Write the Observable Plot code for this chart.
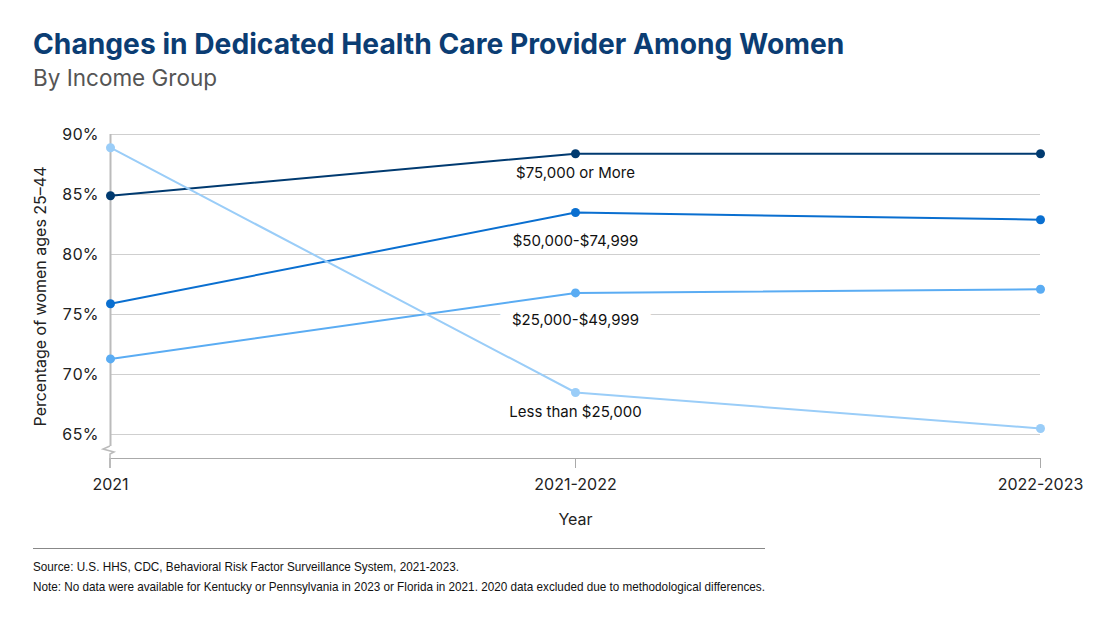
<!DOCTYPE html>
<html>
<head>
<meta charset="utf-8">
<script src="https://cdn.jsdelivr.net/npm/d3@7"></script>
<script src="https://cdn.jsdelivr.net/npm/@observablehq/plot@0.6"></script>
<style>
  html, body { margin: 0; padding: 0; background: #fff; }
  body { width: 1115px; height: 628px; position: relative; overflow: hidden; font-family: Inter, "Noto Sans", sans-serif; }
  #title { position: absolute; left: 33px; top: 27px; font-size: 28.2px; font-weight: 700; color: #0b3d73; letter-spacing: 0; white-space: nowrap; }
  #subtitle { position: absolute; left: 33px; top: 64px; font-size: 22.5px; color: #555; white-space: nowrap; }
  #chart { position: absolute; left: 0; top: 110px; }
  #rule { position: absolute; left: 33px; top: 548px; width: 732px; height: 0; border-top: 1px solid #888; }
  #notes { position: absolute; left: 33px; top: 557px; font-family: "Liberation Sans", Arial, sans-serif; font-size: 13.5px; color: #111; line-height: 20px; white-space: nowrap; transform: scaleX(0.868); transform-origin: 0 0; }
</style>
</head>
<body>
<div id="title">Changes in Dedicated Health Care Provider Among Women</div>
<div id="subtitle">By Income Group</div>
<div id="chart"></div>
<div id="rule"></div>
<div id="notes">
  <div>Source: U.S. HHS, CDC, Behavioral Risk Factor Surveillance System, 2021-2023.</div>
  <div>Note: No data were available for Kentucky or Pennsylvania in 2023 or Florida in 2021. 2020 data excluded due to methodological differences.</div>
</div>
<script>
const periods = ["2021", "2021-2022", "2022-2023"];
const groups = ["$75,000 or More", "$50,000-$74,999", "$25,000-$49,999", "Less than $25,000"];
const values75k = [84.9, 88.4, 88.4];
const values50k = [75.9, 83.5, 82.9];
const values25k = [71.3, 76.8, 77.1];
const valuesLess25k = [88.9, 68.5, 65.5];
const yTicks = [65, 70, 75, 80, 85, 90];

const seriesValues = [values75k, values50k, values25k, valuesLess25k];
const colors = ["#003a70", "#0a6fd0", "#5aacf3", "#9acdf8"];
const labelDy = [19, 29, 27, 20];
const labelHalo = [0, 0, 26, 0];

const data = groups.flatMap((g, i) => periods.map((p, j) => ({group: g, period: p, value: seriesValues[i][j]})));
const labels = groups.map((g, i) => ({group: g, period: periods[1], value: seriesValues[i][1], dy: labelDy[i], halo: labelHalo[i]}));

const chart = Plot.plot({
  width: 1115,
  height: 430,
  marginTop: 24,
  marginBottom: 82,
  marginLeft: 110,
  marginRight: 75,
  style: {fontFamily: "Inter, 'Noto Sans', sans-serif", fontSize: "16px", color: "#222", background: "transparent"},
  x: {type: "point", domain: periods, padding: 0},
  y: {domain: [63, 90]},
  color: {domain: groups, range: colors},
  marks: [
    Plot.gridY(yTicks, {stroke: "#cfcfcf", strokeOpacity: 1, strokeWidth: 1}),
    Plot.axisY(yTicks, {tickFormat: d => d + "%", tickSize: 0, tickPadding: 12, fontSize: 16,
      label: "Percentage of women ages 25–44", labelAnchor: "center", labelArrow: "none", labelOffset: 76}),
    Plot.axisX({tickSize: 10, tickPadding: 10, stroke: "#aaa", fontSize: 16, label: "Year", labelAnchor: "center", labelArrow: "none", labelOffset: 66}),
    Plot.ruleY([63], {stroke: "#aaa", strokeWidth: 1}),
    Plot.ruleX([periods[0]], {y1: 90, y2: 64, stroke: "#bbb", strokeWidth: 2}),
    ...labels.map(l => Plot.text([l], {x: "period", y: "value", text: "group", dy: l.dy, fill: "#111", fontSize: 15,
      stroke: l.halo ? "white" : "none", strokeWidth: l.halo || 0, strokeLinejoin: "round", paintOrder: "stroke"})),
    Plot.line(data, {x: "period", y: "value", z: "group", stroke: "group", strokeWidth: 2}),
    Plot.dot(data, {x: "period", y: "value", fill: "group", r: 4.5})
  ]
});

// axis break marker
const sx = chart.scale("x"), sy = chart.scale("y");
const ax = sx.apply(periods[0]);
const yTop = sy.apply(64);
const yBot = sy.apply(63);
d3.select(chart).append("path")
  .attr("d", `M${ax},${yTop} L${ax - 7},${yTop + 3} L${ax + 4},${yTop + 6} L${ax},${yTop + 8} L${ax},${yBot}`)
  .attr("fill", "none").attr("stroke", "#bbb").attr("stroke-width", 1.5);
d3.select(chart).append("line")
  .attr("x1", ax).attr("x2", ax).attr("y1", yBot).attr("y2", yBot + 10)
  .attr("stroke", "#bbb").attr("stroke-width", 2);

document.getElementById("chart").appendChild(chart);
</script>
</body>
</html>
